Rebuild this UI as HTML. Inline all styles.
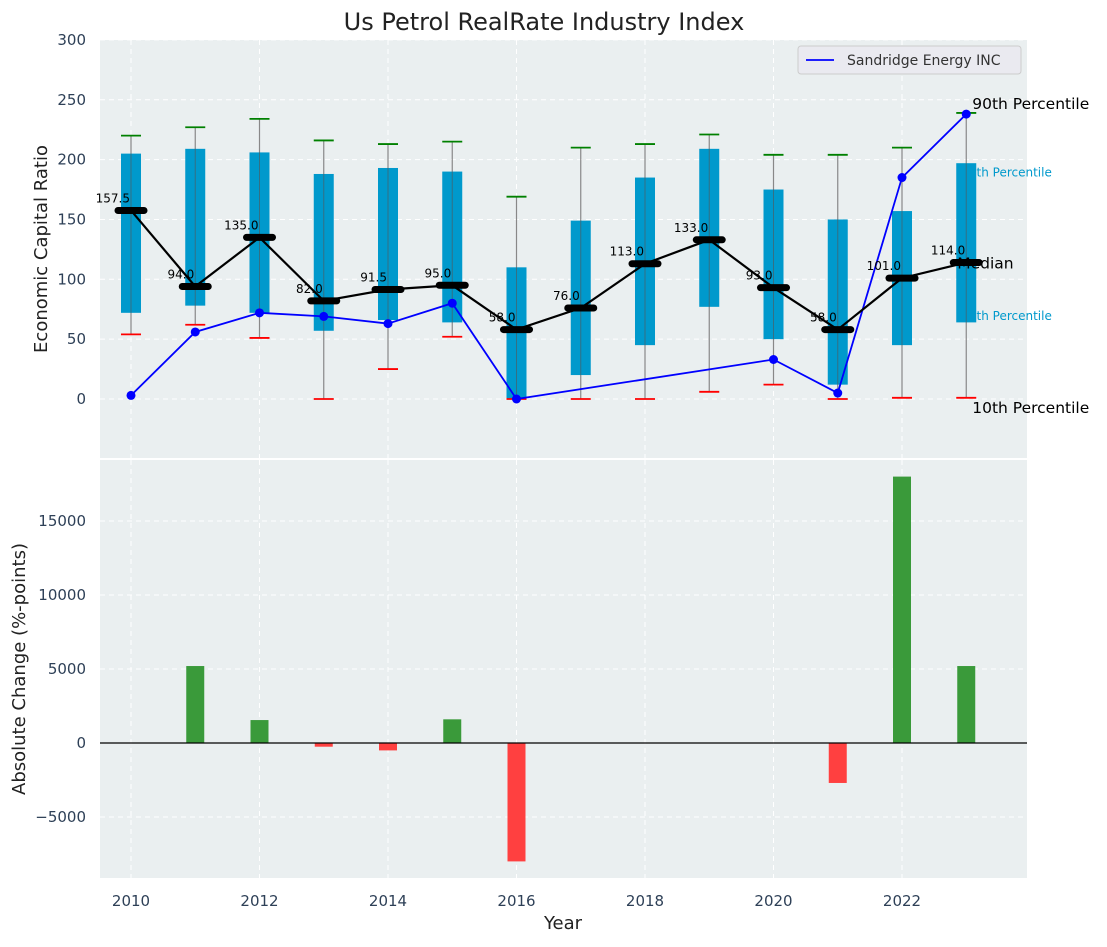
<!DOCTYPE html>
<html><head><meta charset="utf-8"><style>
body{margin:0;background:#fff;font-family:"Liberation Sans","DejaVu Sans",sans-serif}
text{font-family:"DejaVu Sans","Liberation Sans",sans-serif}
</style></head><body>
<svg id="c" width="1107" height="942" xmlns="http://www.w3.org/2000/svg">
<text x="544" y="30" font-size="24" text-anchor="middle" fill="#222">Us Petrol RealRate Industry Index</text>
<g id="topG"></g><g id="botG"></g>
</svg>
<script>
const years=[2010,2011,2012,2013,2014,2015,2016,2017,2018,2019,2020,2021,2022,2023];
const q25=[72,78,72,57,66,64,0,20,45,77,50,12,45,64];
const q75=[205,209,206,188,193,190,110,149,185,209,175,150,157,197];
const p10=[54,62,51,0,25,52,0,0,0,6,12,0,1,1];
const p90=[220,227,234,216,213,215,169,210,213,221,204,204,210,239];
const medians=[157.5,94,135,82,91.5,95,58,76,113,133,93,58,101,114];
const sandYears=[2010,2011,2012,2013,2014,2015,2016,2020,2021,2022,2023];
const sandVals=[3,56,72,69,63,80,0,33,5,185,238];
const barYears=[2011,2012,2013,2014,2015,2016,2021,2022,2023];
const barVals=[5200,1550,-250,-500,1600,-8000,-2700,18000,5200];
const yTicksTop=[0,50,100,150,200,250,300];
const yTicksBot=[-5000,0,5000,10000,15000];
const xTicks=[2010,2012,2014,2016,2018,2020,2022];

const NS='http://www.w3.org/2000/svg';
const L=100,R=1027;
const X=v=>131+(v-2010)*64.25;
const YT=v=>399-v*1.197;
const YB=v=>743-v*0.0148;
function mk(p,t,a,txt){const e=document.createElementNS(NS,t);for(const k in a)e.setAttribute(k,a[k]);if(txt!==undefined)e.textContent=txt;p.appendChild(e);return e;}
const topG=document.getElementById('topG'),botG=document.getElementById('botG');
let e=mk(topG,'rect',{x:L,y:40,width:R-L,height:418,fill:'#eaeff0'});


e=mk(botG,'rect',{x:L,y:460,width:R-L,height:418,fill:'#eaeff0'});


xTicks.forEach(t=>{
 mk(topG,'line',{x1:X(t),x2:X(t),y1:40,y2:458,stroke:'#fff','stroke-dasharray':'5,4','stroke-width':1});
 mk(botG,'line',{x1:X(t),x2:X(t),y1:460,y2:878,stroke:'#fff','stroke-dasharray':'5,4','stroke-width':1});
 e=mk(botG,'text',{x:X(t),y:906,'font-size':15,fill:'#2e4057','text-anchor':'middle'},t);
 
 
});
yTicksTop.forEach(t=>{
 mk(topG,'line',{x1:L,x2:R,y1:YT(t),y2:YT(t),stroke:'#fff','stroke-dasharray':'5,4'});
 e=mk(topG,'text',{x:L-14,y:YT(t)+5,'font-size':15,fill:'#2e4057','text-anchor':'end'},t);
 
 
});
yTicksBot.forEach(t=>{
 mk(botG,'line',{x1:L,x2:R,y1:YB(t),y2:YB(t),stroke:'#fff','stroke-dasharray':'5,4'});
 e=mk(botG,'text',{x:L-14,y:YB(t)+5,'font-size':15,fill:'#2e4057','text-anchor':'end'},t<0?'−'+(-t):t);
 
 
});
const xl=X(2023)+8;
e=mk(topG,'text',{x:X(2023)-5,y:YT(190)+5,'font-size':12,fill:'#0099cc'},'75th Percentile');


e=mk(topG,'text',{x:X(2023)-5,y:YT(70)+5,'font-size':12,fill:'#0099cc'},'25th Percentile');


years.forEach((y,i)=>{
 const x=X(y);
 e=mk(topG,'line',{x1:x,x2:x,y1:YT(p10[i]),y2:YT(p90[i]),stroke:'#888','stroke-width':1.2});
 
 
 e=mk(topG,'rect',{x:x-10,y:YT(q75[i]),width:20,height:YT(q25[i])-YT(q75[i]),fill:'#0099cc'});
 
 
 mk(topG,'line',{x1:x,x2:x,y1:YT(q25[i]),y2:YT(q75[i]),stroke:'#555','stroke-width':1,opacity:0.6});
 e=mk(topG,'line',{x1:x-10,x2:x+10,y1:YT(p90[i]),y2:YT(p90[i]),stroke:'green','stroke-width':1.8});
 
 
 e=mk(topG,'line',{x1:x-10,x2:x+10,y1:YT(p10[i]),y2:YT(p10[i]),stroke:'red','stroke-width':1.8});
 
 
});
e=mk(topG,'polyline',{points:sandYears.map((y,i)=>X(y)+','+YT(sandVals[i])).join(' '),fill:'none',stroke:'#0000ff','stroke-width':1.8});


sandYears.forEach((y,i)=>{e=mk(topG,'circle',{cx:X(y),cy:YT(sandVals[i]),r:4.5,fill:'#0000ff'});
 
 });
e=mk(topG,'polyline',{points:years.map((y,i)=>X(y)+','+YT(medians[i])).join(' '),fill:'none',stroke:'#000','stroke-width':2.2});


years.forEach((y,i)=>{const x=X(y),yy=YT(medians[i]);
 e=mk(topG,'line',{x1:x-13,x2:x+13,y1:yy,y2:yy,stroke:'#000','stroke-width':7,'stroke-linecap':'round'});
 
 
 e=mk(topG,'text',{x:x-1,y:yy-8,'font-size':12,fill:'#000','text-anchor':'end'},medians[i].toFixed(1));
 
 
});
e=mk(topG,'text',{x:xl-2,y:YT(238)-5,'font-size':15.5,fill:'#000'},'90th Percentile');


e=mk(topG,'text',{x:X(2023)-9,y:YT(114)+6,'font-size':15.5,fill:'#000'},'Median');


e=mk(topG,'text',{x:xl-2,y:YT(0)+14,'font-size':15.5,fill:'#000'},'10th Percentile');


const lg=mk(topG,'g',{});


mk(lg,'rect',{x:798,y:46,width:223,height:28,rx:3,fill:'#eaeaf0',stroke:'#ccc'});
mk(lg,'line',{x1:806,x2:834,y1:60,y2:60,stroke:'#0000ff','stroke-width':1.8});
e=mk(lg,'text',{x:847,y:65,'font-size':14,fill:'#333'},'Sandridge Energy INC');


e=mk(topG,'text',{x:0,y:0,'font-size':18,fill:'#222','text-anchor':'middle',transform:'translate(47,249) rotate(-90)'},'Economic Capital Ratio');


e=mk(botG,'text',{x:0,y:0,'font-size':18,fill:'#222','text-anchor':'middle',transform:'translate(25,669) rotate(-90)'},'Absolute Change (%-points)');


e=mk(botG,'text',{x:563,y:929,'font-size':18,fill:'#222','text-anchor':'middle'},'Year');


barYears.forEach((y,i)=>{const v=barVals[i],y0=YB(0),y1=YB(v);
 e=mk(botG,'rect',{x:X(y)-9,y:Math.min(y0,y1),width:18,height:Math.abs(y1-y0),fill:v>=0?'#3a9a3a':'#ff4040'});
 
 
});
e=mk(botG,'line',{x1:L,x2:R,y1:YB(0),y2:YB(0),stroke:'#000','stroke-width':1.2});


</script>
</body></html>
